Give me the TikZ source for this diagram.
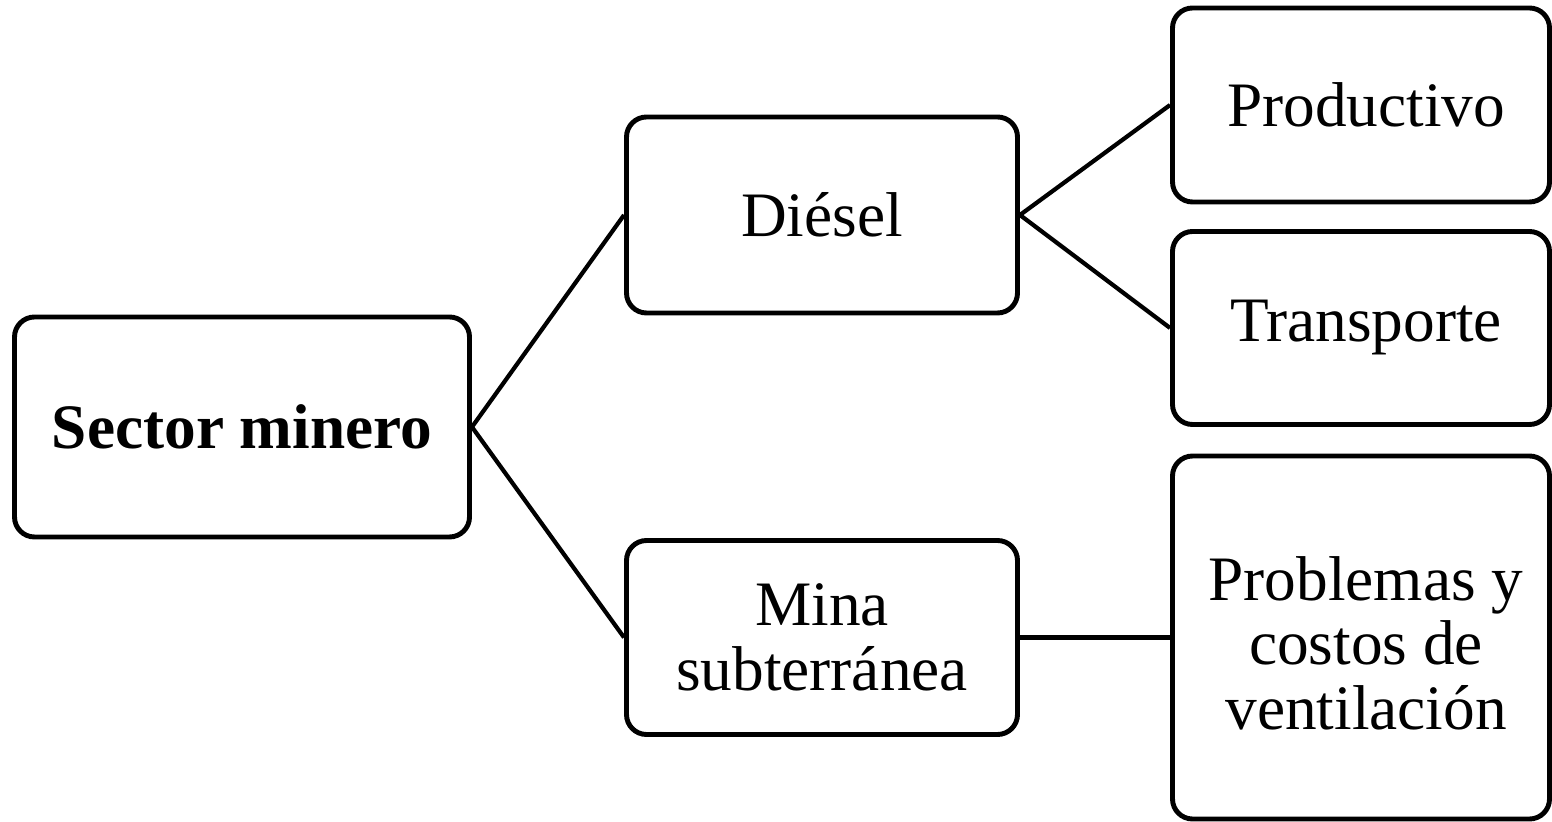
\documentclass[tikz,border=0pt]{standalone}
\usepackage{fontspec}
\setmainfont{Liberation Serif}
\begin{document}
\begin{tikzpicture}[x=0.01cm,y=-0.01cm,
  box/.style={draw=black, line width=1.4pt, rounded corners=0.2cm, fill=white,
    align=center, inner sep=0pt, font=\fontsize{18}{18.3}\selectfont},
  link/.style={draw=black, line width=1.2pt}]
\useasboundingbox (0,0) rectangle (1552,822);
\node[box, minimum width=455*0.01cm, minimum height=220*0.01cm, font=\fontsize{18}{18.3}\selectfont\bfseries] (sm) at (242,427) {Sector minero};
\node[box, minimum width=391*0.01cm, minimum height=196*0.01cm] (d) at (822,215) {Diésel};
\node[box, minimum width=391*0.01cm, minimum height=194*0.01cm] (m) at (822,637.5) {Mina\\subterránea};
\node[box, minimum width=377*0.01cm, minimum height=194*0.01cm] (p) at (1361,105) {\hspace*{0.1cm}Productivo};
\node[box, minimum width=377*0.01cm, minimum height=193*0.01cm] (t) at (1361,328) {\hspace*{0.1cm}Transporte};
\node[box, minimum width=377*0.01cm, minimum height=363*0.01cm] (v) at (1361,637.5) {\rule{0pt}{0.55cm}\hspace*{0.1cm}Problemas y\\\hspace*{0.1cm}costos de\\\hspace*{0.1cm}ventilación};
\draw[link] (sm.east) -- (d.west);
\draw[link] (sm.east) -- (m.west);
\draw[link] (d.east) -- (p.west);
\draw[link] (d.east) -- (t.west);
\draw[link] (m.east) -- (v.west);
\end{tikzpicture}
\end{document}
